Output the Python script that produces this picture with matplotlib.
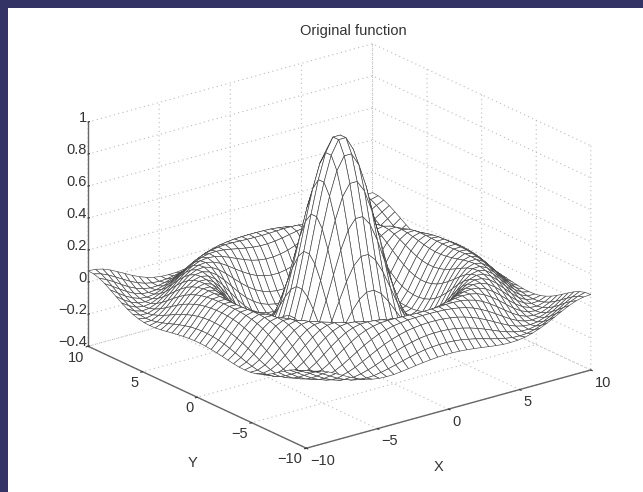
import numpy as np
import matplotlib
matplotlib.use('Agg')
import matplotlib.pyplot as plt
from matplotlib.patches import Rectangle

# --- values, one quadrant (upper triangle, the function is symmetric) ---
x_min = -10
x_max = 10
n_pts = 40
z_rows = [
    [.978,.894,.738,.535,.315,.108,-.060,-.170,-.215,-.202,-.144,-.063,.021,.087,.123,.125,.097,.048,-.007,-.055],
    [.814,.667,.475,.268,.074,-.081,-.179,-.217,-.198,-.137,-.055,.027,.091,.124,.124,.094,.045,-.010,-.057],
    [.535,.365,.182,.014,-.117,-.195,-.217,-.188,-.123,-.041,.038,.098,.126,.122,.089,.039,-.015,-.061],
    [.223,.074,-.060,-.159,-.210,-.212,-.171,-.101,-.019,.055,.107,.128,.117,.081,.029,-.024,-.066],
    [-.037,-.132,-.195,-.217,-.198,-.144,-.070,.008,.074,.116,.128,.110,.069,.017,-.034,-.072],
    [-.188,-.215,-.209,-.171,-.108,-.033,.038,.094,.124,.125,.099,.054,.002,-.046,-.079],
    [-.212,-.183,-.130,-.063,.008,.070,.112,.128,.117,.084,.036,-.015,-.059,-.085],
    [-.137,-.078,-.012,.050,.098,.124,.126,.104,.063,.014,-.034,-.071,-.090],
    [-.019,.038,.087,.118,.128,.116,.084,.039,-.010,-.053,-.081,-.091],
    [.083,.114,.128,.122,.097,.057,.011,-.034,-.069,-.089,-.089],
    [.128,.124,.104,.069,.026,-.018,-.057,-.082,-.091,-.082],
    [.106,.075,.036,-.007,-.046,-.075,-.090,-.088,-.070],
    [.039,-.001,-.039,-.069,-.087,-.091,-.078,-.053],
    [-.037,-.066,-.085,-.091,-.083,-.062,-.032],
    [-.084,-.091,-.086,-.068,-.041,-.008],
    [-.086,-.070,-.046,-.015,.016],
    [-.047,-.019,.011,.039],
    [.010,.036,.057],
    [.056,.068],
    [.071],
]
x_ticks = [-10, -5, 0, 5, 10]
y_ticks = [-10, -5, 0, 5, 10]
z_ticks = [-0.4, -0.2, 0, 0.2, 0.4, 0.6, 0.8, 1]
xy_labels = ['\u221210', '\u22125', '0', '5', '10']
z_labels = ['\u22120.4', '\u22120.2', '0', '0.2', '0.4', '0.6', '0.8', '1']

# --- quadrant to full grid ---
quad = np.zeros((n_pts // 2, n_pts // 2))
for i, row in enumerate(z_rows):
    quad[i, i:] = row
    quad[i:, i] = row
top = np.hstack([quad[:, ::-1], quad])
Z = np.vstack([top[::-1, :], top])
xv = np.linspace(x_min, x_max, n_pts)
X, Y = np.meshgrid(xv, xv)

plt.rc('font', family=['Liberation Sans', 'DejaVu Sans'], size=10.5)
plt.rc('grid', color='#bbbbbb', linestyle=(0, (1, 3)), linewidth=0.8)

W, H = 643, 492
fig = plt.figure(figsize=(W / 100, H / 100), dpi=100, facecolor='white')
# navy strip on top and left only
fig.add_artist(Rectangle((0, 0), 8 / W, 1, transform=fig.transFigure,
                         facecolor='#333366', edgecolor='none', zorder=-1))
fig.add_artist(Rectangle((0, 1 - 8 / H), 1, 8 / H, transform=fig.transFigure,
                         facecolor='#333366', edgecolor='none', zorder=-1))

ax = fig.add_axes([0.1933, 0.0627, 0.6516, 0.8516], projection='3d', proj_type='ortho')
ax.patch.set_alpha(0)
ax.view_init(elev=21, azim=-127.5)
ax.set_box_aspect((1, 1, 0.670), zoom=1.3)

surf = ax.plot_surface(X, Y, Z, rstride=1, cstride=1, color='white', edgecolor='#444444',
                       linewidth=0.45, shade=False, antialiased=True)
surf.set_clip_on(False)

ax.set_xlim(x_min, x_max)
ax.set_ylim(x_min, x_max)
ax.set_zlim(-0.4, 1)
ax.set_xticks(x_ticks, xy_labels)
ax.set_yticks(y_ticks, xy_labels)
ax.set_zticks(z_ticks, z_labels)

for axis in [ax.xaxis, ax.yaxis, ax.zaxis]:
    axis.pane.set_visible(False)
    axis.line.set_color('#666666')
    axis.line.set_linewidth(1.0)
    axis._axinfo['tick']['color'] = '#666666'
    axis._axinfo['tick']['inward_factor'] = 0.08
    axis._axinfo['tick']['outward_factor'] = 0.0
ax.zaxis._axinfo['tick']['inward_factor'] = 0.0
ax.zaxis._axinfo['tick']['outward_factor'] = 0.06

ax.tick_params(axis='x', colors='#333333', pad=-5.3)
ax.tick_params(axis='y', colors='#333333', pad=-5.8)
ax.tick_params(axis='z', colors='#333333', pad=-7.6)

for lbl in ax.get_xticklabels():
    lbl.set_ha('left')
for lbl in ax.get_yticklabels():
    lbl.set_ha('right')
for lbl in ax.get_zticklabels():
    lbl.set_ha('right')
    lbl.set_va('baseline')

fig.text(353 / W, 1 - 31 / H, 'Original function', ha='center', va='center', fontsize=10.5, color='#333333')
fig.text(439 / W, 1 - 467 / H, 'X', ha='center', va='center', fontsize=10.5, color='#333333')
fig.text(192 / W, 1 - 463 / H, 'Y', ha='center', va='center', fontsize=10.5, color='#333333')

fig.savefig('out.png', dpi=100, facecolor=fig.get_facecolor())
